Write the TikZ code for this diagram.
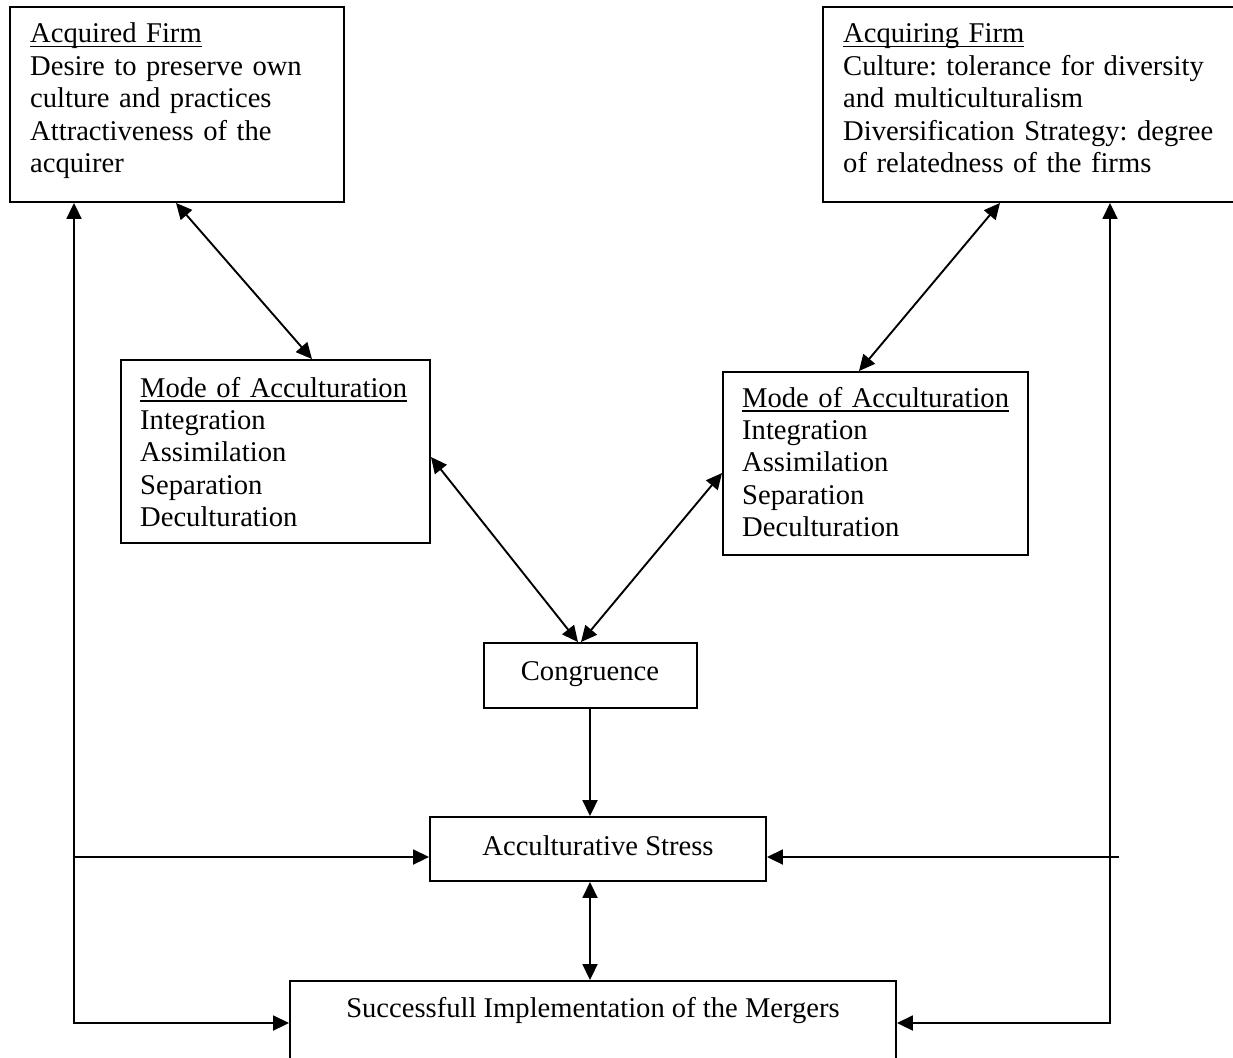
\documentclass[tikz,border=0pt]{standalone}
\usepackage{fontspec}
\setmainfont{Liberation Serif}
\usetikzlibrary{arrows.meta,calc}
% underlined heading: a rule drawn just under the baseline
\newcommand\ulhead[1]{\setbox0\hbox{#1}\rlap{\rule[-4.5pt]{\wd0}{1.6pt}}#1}
\frenchspacing

\begin{document}
\begin{tikzpicture}[x=1pt,y=-1pt,
  box/.style={draw, line width=1.9pt, inner sep=0pt, rectangle},
  txt/.style={inner sep=0pt, anchor=base west, text width=#1, align=left,
              font=\fontsize{28.6}{32.4}\selectfont},
  ctxt/.style={inner sep=0pt, anchor=base, font=\fontsize{28.6}{32.4}\selectfont},
  link/.style={line width=1.9pt, -{Triangle[length=16pt,width=15pt]}},
  dlink/.style={line width=1.9pt, {Triangle[length=16pt,width=15pt]}-{Triangle[length=16pt,width=15pt]}}
]
\useasboundingbox (0,0) rectangle (1233,1057);
\clip (0,0) rectangle (1233,1057);

% boxes
\node[box, minimum width=334pt, minimum height=195pt] (b1) at (177,104.5) {};
\node[box, minimum width=422pt, minimum height=195pt] (b2) at (1034,104.5) {};
\node[box, minimum width=309pt, minimum height=183pt] (m1) at (275.5,451.5) {};
\node[box, minimum width=305pt, minimum height=183pt] (m2) at (875.5,463.5) {};
\node[box, minimum width=213pt, minimum height=65pt] (c) at (590.5,675.5) {};
\node[box, minimum width=336pt, minimum height=64pt] (s) at (598,849) {};
\node[box, minimum width=606pt, minimum height=99pt] (f) at (593,1030.5) {};

% texts
\node[txt=320pt] (t1) at (30,43) {\ulhead{Acquired Firm}\\Desire to preserve own\\culture and practices\\Attractiveness of the\\acquirer};
\node[txt=390pt] (t2) at (843,43) {\ulhead{Acquiring Firm}\\Culture: tolerance for diversity\\and multiculturalism\\Diversification Strategy: degree\\of relatedness of the firms};
\node[txt=285pt] (tm1) at (140,397) {\ulhead{Mode of Acculturation}\\Integration\\Assimilation\\Separation\\Deculturation};
\node[txt=285pt] (tm2) at (742,407) {\ulhead{Mode of Acculturation}\\Integration\\Assimilation\\Separation\\Deculturation};
\node[ctxt] (tc) at (590,680) {Congruence};
\node[ctxt] (ts) at (598,855) {Acculturative Stress};
\node[ctxt] (tf) at (593,1017) {Successfull Implementation of the Mergers};

% connectors
\draw[dlink] (176,0 |- b1.south) -- (312,0 |- m1.north);
\draw[dlink] (1000,0 |- b2.south) -- (859,0 |- m2.north);
\draw[dlink] (m1.east |- 0,457) -- (578,0 |- c.north);
\draw[dlink] (m2.west |- 0,473) -- (581,0 |- c.north);
\draw[link] (590,0 |- c.south) -- (590,0 |- s.north);
\draw[dlink] (590,0 |- s.south) -- (590,0 |- f.north);

\coordinate (lb) at (74,1023);
\coordinate (lm) at (74,857);
\draw[dlink] (lb |- b1.south) -- (lb) -- (lb -| f.west);
\draw[link] (lm) -- (lm -| s.west);

\coordinate (rb) at (1110,1023);
\coordinate (rm) at (1119,857);
\draw[dlink] (rb |- b2.south) -- (rb) -- (rb -| f.east);
\draw[link] (rm) -- (rm -| s.east);
\end{tikzpicture}
\end{document}
